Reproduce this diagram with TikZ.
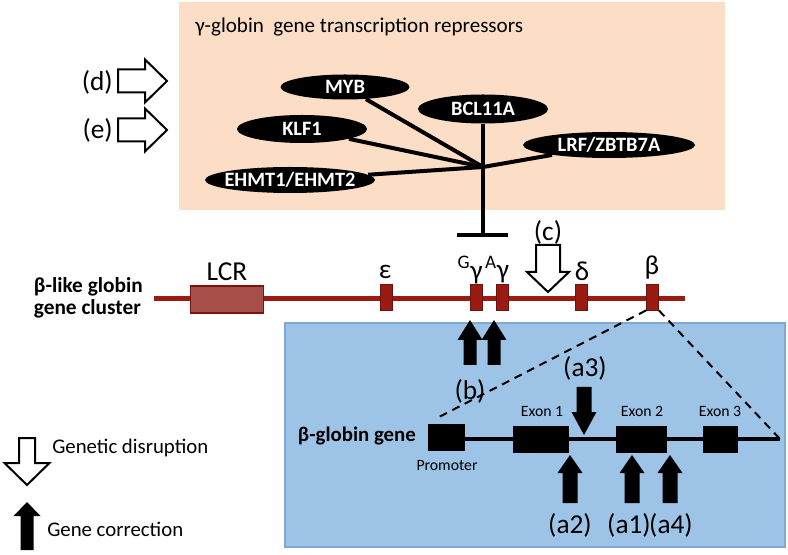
\documentclass[tikz,border=0pt]{standalone}
\usepackage{fontspec}
\setmainfont{Carlito}
\usetikzlibrary{shapes.geometric}

\definecolor{peach}{HTML}{FCDDC6}
\definecolor{skyblue}{HTML}{9DC3E6}
\definecolor{skyedge}{HTML}{7FA8D6}
\definecolor{chrom}{HTML}{9A1B12}
\definecolor{lcrfill}{HTML}{A54F48}

\newcommand{\zb}[1]{\makebox[0pt]{#1}}

\tikzset{
  repr/.style={ellipse, fill=black, text=white, inner sep=0pt,
    font=\bfseries\fontsize{15.3}{17}\selectfont},
  gene/.style={rectangle, draw=chrom!70!black, fill=chrom, line width=0.6pt,
    minimum width=9pt, minimum height=19.5pt, inner sep=0pt},
  exon/.style={rectangle, fill=black, inner sep=0pt, minimum height=20.25pt},
  lbl/.style={font=\fontsize{20.5}{22}\selectfont, inner sep=0pt},
  exonlbl/.style={font=\fontsize{11.8}{13}\selectfont, inner sep=0pt},
  legend/.style={anchor=west, inner sep=0pt, font=\fontsize{15.6}{17}\selectfont},
  disr/.style={draw=black, fill=white, line width=1.5pt, line join=miter},
  corr/.style={fill=black},
  pics/blockarrow/.style n args={4}{code={
    \path[pic actions] (-#1,0) -- (-#1,#4-#3) -- (-#2,#4-#3) -- (0,#4)
      -- (#2,#4-#3) -- (#1,#4-#3) -- (#1,0) -- cycle;}}
}

\begin{document}
\begin{tikzpicture}[x=0.75pt,y=-0.75pt]
  \useasboundingbox (0,0) rectangle (788,555);

  % Repressors
  \fill[peach] (179,2) rectangle (725,210);
  \node[anchor=west, inner sep=0pt, font=\fontsize{15.8}{17}\selectfont] (title) at (195,27)
    {γ-globin\ \ gene transcription repressors};

  \node[repr, minimum width=96.75pt, minimum height=18.75pt] (myb) at (345,87) {\zb{MYB}};
  \node[repr, minimum width=97.5pt, minimum height=21.75pt] (bcl) at (483,109) {\zb{BCL11A}};
  \node[repr, minimum width=97.5pt, minimum height=21pt] (klf) at (302,129) {\zb{KLF1}};
  \node[repr, minimum width=127.5pt, minimum height=19.5pt] (ehmt) at (290,180) {\zb{EHMT1/EHMT2}};
  \node[repr, minimum width=129pt, minimum height=19.5pt] (lrf) at (609,145) {\zb{LRF/ZBTB7A}};

  \coordinate (hub) at (483,167);
  \coordinate (tee) at (483,235);
  \coordinate (teeL) at (457,235);
  \coordinate (teeR) at (508,235);
  \begin{scope}[line width=3pt]
    \draw (myb) -- (hub);
    \draw (klf) -- (hub);
    \draw (ehmt) -- (hub);
    \draw (lrf) -- (hub);
    \draw (bcl) -- (tee);
    \draw (teeL) -- (teeR);
  \end{scope}

  % (d) and (e)
  \pic[disr, rotate=90] at (118,81) {blockarrow={11.5}{21.5}{22}{49}};
  \pic[disr, rotate=90] at (118,130) {blockarrow={11.5}{21.5}{22}{49}};
  \node[lbl, anchor=east] (dlab) at (113,82) {(d)};
  \node[lbl, anchor=east] (elab) at (113,130) {(e)};

  % Cluster
  \node[anchor=east, align=left, inner sep=0pt,
    font=\bfseries\fontsize{16}{16.5}\selectfont] (cluster) at (143,298)
    {β-like globin\\gene cluster};
  \coordinate (chrL) at (154,299);
  \coordinate (chrR) at (685,299);
  \draw[chrom, line width=3.75pt] (chrL) -- (chrR);
  \node[rectangle, draw=chrom!80!black, fill=lcrfill, line width=0.8pt,
    minimum width=54.75pt, minimum height=20.25pt] (lcr) at (227,299.5) {};
  \node[gene] (eps) at (386,297) {};
  \node[gene] (Gg) at (476,297) {};
  \node[gene] (Ag) at (502.5,297) {};
  \node[gene] (del) at (581,297) {};
  \node[gene] (bet) at (652.5,297) {};

  \node[lbl] (lcrlab) at (227,272) {LCR};
  \node[lbl] (epslab) at (385,272) {ε};
  \node[lbl] (Gglab) at (470,270) {\textsuperscript{G}γ};
  \node[lbl] (Aglab) at (497,270) {\textsuperscript{A}γ};
  \node[lbl] (dellab) at (582,271) {δ};
  \node[lbl] (betlab) at (652,268) {β};

  % (c)
  \pic[disr] at (548,245) {blockarrow={12}{21}{20}{47}};
  \node[lbl] (clab) at (548,232) {(c)};

  % beta-globin gene
  \draw[skyedge, fill=skyblue, line width=0.8pt] (285,323) rectangle (785,547);
  \node[anchor=east, inner sep=0pt, font=\bfseries\fontsize{15.6}{17}\selectfont]
    (genelab) at (416,436) {β-globin gene};
  \coordinate (gL) at (430,439);
  \coordinate (gR) at (780,439);
  \draw[line width=3pt] (gL) -- (gR);
  \node[exon, minimum width=27.75pt] (prom) at (446.5,437.5) {};
  \node[exon, minimum width=42pt] (ex1) at (541,439.5) {};
  \node[exon, minimum width=38.25pt] (ex2) at (641.5,439.5) {};
  \node[exon, minimum width=26.25pt] (ex3) at (720.5,439.5) {};
  \node[exonlbl] (promlab) at (447,466) {Promoter};
  \node[exonlbl] (ex1lab) at (542,411) {Exon 1};
  \node[exonlbl] (ex2lab) at (642,411) {Exon 2};
  \node[exonlbl] (ex3lab) at (720,411) {Exon 3};

  \coordinate (promtop) at (437,418);
  \begin{scope}[dashed, dash pattern=on 6pt off 4.5pt, line width=1.5pt]
    \draw (bet.south west) -- (promtop);
    \draw (bet.south east) -- (gR);
  \end{scope}

  % Gene correction
  \pic[corr, rotate=180] at (470,365) {blockarrow={6.5}{12.5}{20}{45}};
  \pic[corr, rotate=180] at (494,365) {blockarrow={6.5}{12.5}{20}{45}};
  \pic[corr] at (584,387) {blockarrow={7.5}{12.5}{23}{48}};
  \pic[corr, rotate=180] at (570,503) {blockarrow={7.5}{12.5}{18}{48}};
  \pic[corr, rotate=180] at (632,503) {blockarrow={7.5}{12.5}{18}{48}};
  \pic[corr, rotate=180] at (670,503) {blockarrow={7.5}{12.5}{18}{48}};
  \node[lbl] (blab) at (470,391) {(b)};
  \node[lbl] (a3lab) at (585,368) {(a3)};
  \node[lbl] (a2lab) at (570,525) {(a2)};
  \node[lbl] (a1lab) at (629,525) {(a1)};
  \node[lbl] (a4lab) at (671,525) {(a4)};

  % Legend
  \pic[disr] at (27,438) {blockarrow={8}{22.5}{22}{47}};
  \pic[corr, rotate=180] at (27,550) {blockarrow={6.5}{13.5}{14}{48}};
  \node[legend] (disrlab) at (52,448) {Genetic disruption};
  \node[legend] (corrlab) at (47,529) {Gene correction};
\end{tikzpicture}
\end{document}
